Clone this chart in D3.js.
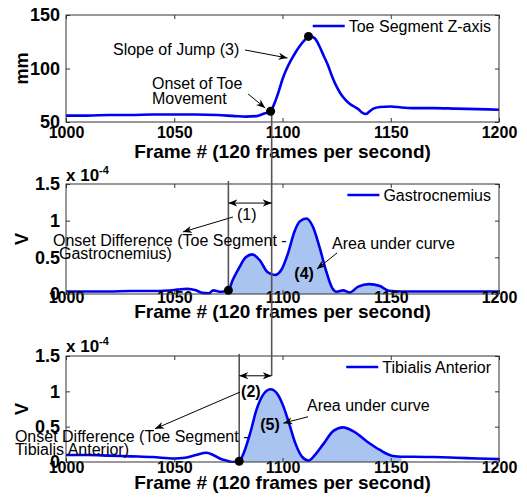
<!DOCTYPE html>
<html>
<head>
<meta charset="utf-8">
<title>Toe segment and EMG onsets</title>
<script src="https://d3js.org/d3.v7.min.js"></script>
<style>
  body { margin: 0; background: #fff; }
  text { font-family: Arial, "Liberation Sans", sans-serif; fill: #000; }
  .xlab { font-size: 16px; font-weight: bold; }
  .ylab { font-size: 18px; font-weight: bold; }
</style>
</head>
<body>
<script>
// ---- data ----
var frameTicks = [1000, 1050, 1100, 1150, 1200];
var toeTicks = [50, 100, 150];
var toeTickLabels = ["50", "100", "150"];
var emgTicks = [0, 0.5, 1, 1.5];
var emgTickLabels = ["0", "0.5", "1", "1.5"];

// toe marker height (mm)
var toeFrames = [1000, 1010, 1020, 1030, 1040, 1050, 1060, 1070, 1078, 1083, 1088, 1091, 1094.5, 1096, 1098, 1100,
  1102, 1104, 1106, 1108, 1110, 1112, 1113, 1115, 1117, 1119, 1121, 1123, 1125, 1127, 1129, 1131, 1133, 1135,
  1137, 1138.5, 1140, 1142, 1145, 1150, 1155, 1160, 1170, 1180, 1190, 1200];
var toeZ = [56, 56, 56.5, 56.5, 57, 57, 57, 56.5, 55.5, 55, 55.5, 57.5, 60, 66, 77, 90,
  100, 108, 115, 121, 126, 129.5, 130, 128, 121, 112, 103, 92, 83, 76, 71, 67, 64.5, 62,
  58.5, 57.5, 59.5, 62.5, 64, 64.5, 63.5, 63, 63, 62.5, 62, 61.5];

// gastrocnemius EMG (x 1e-4 V)
var gasFrames = [1000, 1010, 1020, 1030, 1040, 1045, 1050, 1053, 1056, 1060, 1063, 1066, 1068, 1071, 1073, 1075,
  1077, 1080, 1083, 1086, 1089.5, 1093, 1096.5, 1099.5, 1102.5, 1105.5, 1108, 1111, 1114, 1117, 1120, 1123,
  1125, 1128, 1131, 1135, 1140, 1145, 1149, 1155, 1160, 1170, 1180, 1190, 1200];
var gasV = [0.035, 0.035, 0.035, 0.04, 0.04, 0.045, 0.055, 0.065, 0.07, 0.05, 0.015, 0.01, 0.05, 0.03, 0.035, 0.05,
  0.19, 0.36, 0.5, 0.54, 0.46, 0.3, 0.26, 0.33, 0.55, 0.85, 0.99, 1.03, 0.92, 0.65, 0.33, 0.08,
  0.03, 0.05, 0.02, 0.1, 0.135, 0.11, 0.045, 0.035, 0.035, 0.035, 0.035, 0.035, 0.035];
var gasArea = [1075, 1149];

// tibialis anterior EMG (x 1e-4 V)
var tibFrames = [1000, 1010, 1020, 1030, 1040, 1050, 1055, 1060, 1065, 1068, 1071, 1074, 1077, 1080, 1082, 1085,
  1088, 1091, 1094.5, 1097.5, 1100.5, 1103, 1106, 1109, 1112, 1115, 1119, 1123.5, 1128, 1133, 1139, 1145,
  1151, 1155, 1160, 1170, 1180, 1190, 1200];
var tibV = [0.1, 0.1, 0.09, 0.08, 0.07, 0.05, 0.06, 0.1, 0.13, 0.1, 0.05, 0.02, 0.0, 0.01, 0.12, 0.4,
  0.74, 0.95, 1.03, 0.97, 0.78, 0.55, 0.26, 0.075, 0.02, 0.1, 0.26, 0.44, 0.49, 0.43, 0.29, 0.17,
  0.085, 0.075, 0.075, 0.07, 0.06, 0.05, 0.04];
var tibArea = [1080, 1155];

// marked events
var toeOnset = [1094.5, 60], toePeak = [1112, 130];
var gasOnset = [1075, 0.05], tibOnset = [1080, 0.01];

// ---- layout ----
var svg = d3.select("body").append("svg").attr("width", 527).attr("height", 501);
var left = 66, right = 499;
var x = d3.scaleLinear().domain([1000, 1200]).range([left, right]);

var panels = [
  {top: 15, bottom: 122, domain: [50, 150], ticks: toeTicks, labels: toeTickLabels, ylabel: "mm",
   legend: "Toe Segment Z-axis", frames: toeFrames, values: toeZ, xPad: 5, titleY: 158},
  {top: 184, bottom: 294, domain: [0, 1.5], ticks: emgTicks, labels: emgTickLabels, ylabel: "V",
   legend: "Gastrocnemius", frames: gasFrames, values: gasV, area: gasArea, xPad: -2, titleY: 318, expo: 181},
  {top: 356, bottom: 462, domain: [0, 1.5], ticks: emgTicks, labels: emgTickLabels, ylabel: "V",
   legend: "Tibialis Anterior", frames: tibFrames, values: tibV, area: tibArea, xPad: 0, titleY: 489, expo: 352}
];

var defs = svg.append("defs");
defs.append("marker").attr("id", "head")
    .attr("viewBox", "0 -5 10 10").attr("refX", 10).attr("refY", 0)
    .attr("markerWidth", 9).attr("markerHeight", 9)
    .attr("markerUnits", "userSpaceOnUse").attr("orient", "auto-start-reverse")
  .append("path").attr("d", "M0,-4L10,0L0,4L3,0Z").attr("fill", "#000");

panels.forEach(function(p, i) {
  p.y = d3.scaleLinear().domain(p.domain).range([p.bottom, p.top]);
  var pts = p.frames.map(function(f, k) { return [f, p.values[k]]; });

  defs.append("clipPath").attr("id", "clip" + i)
    .append("rect").attr("x", left).attr("y", p.top - 2)
    .attr("width", right - left).attr("height", p.bottom - p.top + 3);

  var g = svg.append("g");
  var plot = g.append("g").attr("clip-path", "url(#clip" + i + ")");

  // shaded area under the curve
  if (p.area) {
    var sub = pts.filter(function(d) { return d[0] >= p.area[0] && d[0] <= p.area[1]; });
    plot.append("path")
      .attr("d", d3.area().x(function(d) { return x(d[0]); })
        .y0(p.bottom).y1(function(d) { return p.y(d[1]); })
        .curve(d3.curveMonotoneX)(sub))
      .attr("fill", "#a9c4f0");
  }

  plot.append("path")
    .attr("d", d3.line().x(function(d) { return x(d[0]); })
      .y(function(d) { return p.y(d[1]); }).curve(d3.curveMonotoneX)(pts))
    .attr("fill", "none").attr("stroke", "#0000f0").attr("stroke-width", 2.6);

  // axes, MATLAB style ticks pointing inward
  var xb = g.append("g").attr("transform", "translate(0," + p.bottom + ")")
    .call(d3.axisBottom(x).tickValues(frameTicks).tickFormat(d3.format("d"))
      .tickSizeInner(-4).tickSizeOuter(0).tickPadding(p.xPad));
  xb.attr("font-size", null).attr("font-family", null);
  xb.selectAll("text").attr("class", "xlab");

  var yl = g.append("g").attr("transform", "translate(" + left + ",0)")
    .call(d3.axisLeft(p.y).tickValues(p.ticks).tickFormat(function(d, k) { return p.labels[k]; })
      .tickSizeInner(-4).tickSizeOuter(0).tickPadding(6));
  yl.attr("font-size", null).attr("font-family", null);
  yl.selectAll("text").attr("class", "ylab");

  g.append("g").attr("transform", "translate(0," + p.top + ")")
    .call(d3.axisTop(x).tickValues(frameTicks).tickFormat("").tickSizeInner(-4).tickSizeOuter(0));
  g.append("g").attr("transform", "translate(" + right + ",0)")
    .call(d3.axisRight(p.y).tickValues(p.ticks).tickFormat("").tickSizeInner(-4).tickSizeOuter(0));
  g.selectAll(".domain").remove();
  g.selectAll(".tick line").attr("stroke", "#333");

  g.append("rect").attr("x", left).attr("y", p.top)
    .attr("width", right - left).attr("height", p.bottom - p.top)
    .attr("fill", "none").attr("stroke", "#333").attr("stroke-width", 1);

  g.append("text").attr("x", (left + right) / 2).attr("y", p.titleY)
    .attr("text-anchor", "middle").style("font-size", "19px").style("font-weight", "bold")
    .text("Frame # (120 frames per second)");

  g.append("text")
    .attr("transform", "translate(28," + ((p.top + p.bottom) / 2) + ") rotate(-90)")
    .attr("text-anchor", "middle").style("font-size", "18px").style("font-weight", "bold")
    .text(p.ylabel);

  if (p.expo) {
    var ex = g.append("text").attr("x", left).attr("y", p.expo)
      .style("font-size", "17px").style("font-weight", "bold");
    ex.append("tspan").text("x 10");
    ex.append("tspan").attr("dy", -7).style("font-size", "11px").text("-4");
  }

  // legend (no box)
  var lt = g.append("text").attr("x", right - 8).attr("y", p.top + 17)
    .attr("text-anchor", "end").style("font-size", "16px").text(p.legend);
  var tx = right - 8 - lt.node().getComputedTextLength();
  g.append("line").attr("x1", tx - 36).attr("x2", tx - 4)
    .attr("y1", p.top + 11).attr("y2", p.top + 11)
    .attr("stroke", "#0000f0").attr("stroke-width", 2.6);
});

var p1 = panels[0], p2 = panels[1], p3 = panels[2];

// ---- annotations ----
var ann = svg.append("g");

function vline(f, y0, y1) {
  ann.append("line").attr("x1", x(f)).attr("x2", x(f)).attr("y1", y0).attr("y2", y1)
    .attr("stroke", "#555").attr("stroke-width", 1.6);
}
function arrow(pa, f0, v0, pb, f1, v1, both) {
  var l = ann.append("line")
    .attr("x1", x(f0)).attr("y1", pa.y(v0)).attr("x2", x(f1)).attr("y2", pb.y(v1))
    .attr("stroke", "#000").attr("stroke-width", 1)
    .attr("marker-end", "url(#head)");
  if (both) l.attr("marker-start", "url(#head)");
}
function note(p, f, v, lines, opt) {
  opt = opt || {};
  var t = ann.append("text").attr("x", x(f)).attr("y", p.y(v))
    .style("font-size", "16px").attr("text-anchor", opt.anchor || "start")
    .style("font-weight", opt.bold ? "bold" : "normal");
  lines.forEach(function(s, k) {
    t.append("tspan").attr("x", x(f) + (k ? (opt.indent || 0) : 0))
      .attr("dy", k ? (opt.lh || 14) : 0).text(s);
  });
}

// onset lines
vline(1095, p1.y(toeOnset[1]), p3.y(1.22));
vline(gasOnset[0], p2.y(1.54), p2.bottom);
vline(tibOnset[0], p3.y(1.53), p3.bottom);

// onset differences
arrow(p2, gasOnset[0], 1.24, p2, 1095, 1.24, true);
arrow(p3, tibOnset[0], 1.22, p3, 1095, 1.22, true);

note(p1, 1021.7, 112.6, ["Slope of Jump (3)"]);
arrow(p1, 1082.7, 117.3, p1, 1102.3, 109.8);
note(p1, 1039.7, 80.8, ["Onset of Toe", "Movement"], {lh: 15});
arrow(p1, 1084.1, 76.2, p1, 1092, 63.1);

note(p2, 1083.5, 1.01, ["(1)"], {anchor: "middle"});
arrow(p2, 1077.1, 1.05, p2, 1054, 0.846);
note(p2, 994, 0.655, ["Onset Difference (Toe Segment -", "Gastrocnemius)"], {lh: 13, indent: 6});
note(p2, 1122.9, 0.614, ["Area under curve"]);
arrow(p2, 1125.2, 0.56, p2, 1115.9, 0.34);
note(p2, 1110, 0.2, ["(4)"], {anchor: "middle", bold: true});

note(p3, 1085.4, 0.92, ["(2)"], {anchor: "middle", bold: true});
arrow(p3, 1080.4, 0.99, p3, 1041.1, 0.47);
note(p3, 976.4, 0.28, ["Onset Difference (Toe Segment -", "Tibialis Anterior)"], {lh: 13});
note(p3, 1111.3, 0.72, ["Area under curve"]);
arrow(p3, 1111.8, 0.64, p3, 1100.4, 0.55);
note(p3, 1094.2, 0.45, ["(5)"], {anchor: "middle", bold: true});

// event markers
[[p1, toeOnset], [p1, toePeak], [p2, gasOnset], [p3, tibOnset]].forEach(function(m) {
  ann.append("circle").attr("cx", x(m[1][0])).attr("cy", m[0].y(m[1][1]))
    .attr("r", 4.5).attr("fill", "#000");
});
</script>
</body>
</html>
